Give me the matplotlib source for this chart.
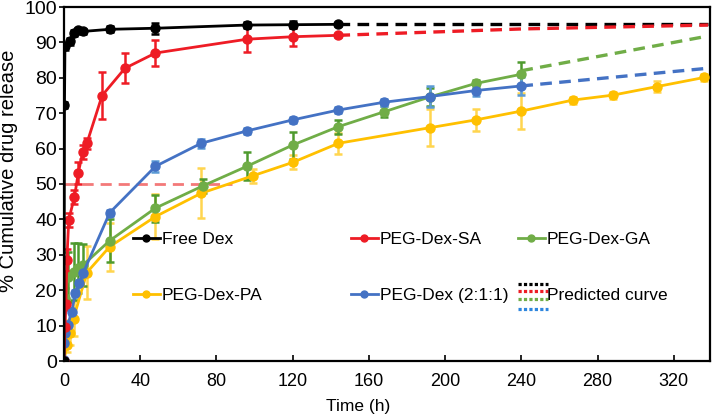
import matplotlib
matplotlib.use("Agg")
import matplotlib.pyplot as plt
from matplotlib.lines import Line2D
from matplotlib.legend_handler import HandlerBase

plt.rcParams['font.family'] = ['Liberation Sans', 'DejaVu Sans']

# ---------------- data ----------------
free_t = [0, 0.25, 0.5, 3, 5, 7.5, 10, 24, 48, 96, 120, 144]
free_v = [0, 72.4, 88.9, 90.3, 92.6, 93.4, 93.1, 93.7, 94.0, 94.9, 95.0, 95.1]
free_e = [0, 0.8, 1.0, 1.0, 0.8, 0.8, 0.8, 0.8, 1.5, 0.8, 1.0, 0.5]

sa_t = [0, 0.5, 1, 1.5, 2.5, 5.5, 7.5, 9.8, 12, 20, 32, 48, 96, 120, 144]
sa_v = [0, 9.5, 16, 28.5, 39.9, 46.4, 53.1, 59.0, 61.5, 75.0, 82.7, 87.0, 90.9, 91.6, 92.0]
sa_e = [0, 1.0, 1.5, 3.0, 2.0, 2.0, 3.0, 2.0, 1.5, 6.6, 4.2, 3.7, 3.6, 2.6, 0.5]

ga_t = [0, 0.5, 2, 5, 7.5, 10, 24, 48, 73, 96, 120, 144, 168, 192, 216, 240]
ga_v = [0, 17.7, 23.8, 25.2, 26.2, 27.1, 34.0, 43.2, 49.5, 55.0, 61.0, 66.2, 70.4, 74.6, 78.4, 81.0]
ga_e = [0, 3.0, 7.0, 8.0, 7.0, 6.0, 6.0, 3.8, 2.0, 4.0, 3.8, 2.0, 1.5, 2.5, 1.0, 3.5]

pa_t = [0, 1.5, 3, 5, 12, 24, 48, 72, 99, 120, 144, 192, 216, 240, 267, 288, 311, 336]
pa_v = [0, 4.5, 8.0, 12.0, 25.0, 32.3, 40.8, 47.4, 52.3, 56.1, 61.5, 65.9, 68.1, 70.6, 73.7, 75.1, 77.5, 80.1]
pa_e = [0, 2.0, 3.5, 5.0, 7.5, 6.8, 6.3, 7.0, 2.0, 2.0, 3.0, 5.2, 3.0, 5.0, 1.0, 1.0, 1.5, 1.0]

mix_t = [0, 0.25, 0.5, 2, 4, 6, 8, 10, 24, 48, 72, 96, 120, 144, 168, 192, 216, 240]
mix_v = [0.3, 5.0, 7.9, 10.2, 13.9, 19.1, 21.9, 24.8, 41.9, 55.0, 61.5, 65.0, 68.1, 70.9, 73.1, 74.7, 76.4, 77.7]
mix_e = [0, 0.8, 1.0, 1.0, 1.0, 1.0, 1.0, 1.0, 0.8, 1.5, 1.2, 0.8, 0.8, 0.8, 1.0, 3.0, 1.5, 2.5]

# predicted curves
pred_free_t = [144, 338]
pred_free_v = [95.1, 95.1]
pred_sa_t = [144, 240, 338]
pred_sa_v = [92.0, 93.8, 94.9]
pred_ga_t = [240, 290, 338]
pred_ga_v = [82.0, 87.0, 91.8]
pred_mix_t = [240, 338]
pred_mix_v = [77.7, 82.7]

half_t = [0, 88]
half_v = [50, 50]

xticks = [0, 40, 80, 120, 160, 200, 240, 280, 320]
yticks = [0, 10, 20, 30, 40, 50, 60, 70, 80, 90, 100]

labels = ['Free Dex', 'PEG-Dex-SA', 'PEG-Dex-GA', 'PEG-Dex-PA', 'PEG-Dex (2:1:1)', 'Predicted curve']

# ---------------- style ----------------
C_BLACK = '#000000'
C_RED = '#EE1C25'
C_GREEN = '#70AD47'
C_YELLOW = '#FFC000'
C_BLUE = '#4472C4'
E_GREEN = '#4E9A2E'
E_YELLOW = '#FFD54F'
E_BLUE = '#5B9BD5'

fig = plt.figure(figsize=(7.14, 4.16), dpi=100)
ax = fig.add_axes([64/714, 1-361/416, (710-64)/714, (361-7)/416])

ax.plot(half_t, half_v, color='#F26B6B', lw=2.0, ls=(0, (4, 2.5)), alpha=0.9, zorder=1)

def series(t, v, e, c, ec):
    ax.errorbar(t, v, yerr=e, color=c, ecolor=ec, lw=2.0, elinewidth=1.8,
                capsize=2.8, capthick=1.8, marker='o', ms=6.5, mec=c, mfc=c, zorder=3)

lw_pred = 2.4
dash = (0, (3.5, 2.2))
ax.plot(pred_free_t, pred_free_v, color=C_BLACK, lw=lw_pred, ls=dash, zorder=2)
ax.plot(pred_sa_t, pred_sa_v, color=C_RED, lw=lw_pred, ls=dash, zorder=2)
ax.plot(pred_ga_t, pred_ga_v, color=C_GREEN, lw=lw_pred, ls=dash, zorder=2)
ax.plot(pred_mix_t, pred_mix_v, color=C_BLUE, lw=lw_pred, ls=dash, zorder=2)

series(pa_t, pa_v, pa_e, C_YELLOW, E_YELLOW)
series(ga_t, ga_v, ga_e, C_GREEN, E_GREEN)
series(mix_t, mix_v, mix_e, C_BLUE, E_BLUE)
series(sa_t, sa_v, sa_e, C_RED, C_RED)
series(free_t, free_v, free_e, C_BLACK, C_BLACK)

ax.set_xlim(0, 339)
ax.set_ylim(0, 100)
ax.set_xticks(xticks)
ax.set_yticks(yticks)
for s in ax.spines.values():
    s.set_linewidth(1.6)
    s.set_color('black')
ax.tick_params(axis='x', direction='in', length=4, width=1.2, labelsize=13, pad=9)
ax.tick_params(axis='y', direction='out', length=3.5, width=1.2, labelsize=14, pad=1.5)

ax.set_xlabel('Time (h)', fontsize=12.5)
ax.xaxis.set_label_coords(0.455, -0.106)
ax.set_ylabel('% Cumulative drug release', fontsize=14.5)
ax.yaxis.set_label_coords(-0.071, 0.537)

# ---------------- legend ----------------
class PredHandler(HandlerBase):
    def create_artists(self, legend, orig_handle, xdescent, ydescent, width, height, fontsize, trans):
        arts = []
        cols = [C_BLACK, C_RED, C_GREEN, '#2E86DE']
        offs = [7.2, 1.8, -3.6, -10.5]
        for c, o in zip(cols, offs):
            y = -ydescent + height / 2 + o
            ln = Line2D([-xdescent, -xdescent + width * 1.1], [y, y], color=c, lw=2.3,
                        ls=(0, (1, 0.7)), transform=trans)
            arts.append(ln)
        return arts

class PredProxy:
    pass

def h(c):
    return Line2D([], [], color=c, lw=2.0, marker='o', ms=5, mfc=c, mec=c)

leg_kw = dict(frameon=False, fontsize=12.5, handlelength=1.55, handletextpad=0.1,
              labelspacing=2.35, borderpad=0, borderaxespad=0, loc='center left', numpoints=1)
y_leg = (361 - 267.5) / 354
l1 = ax.legend([h(C_BLACK), h(C_YELLOW)], [labels[0], labels[3]],
               bbox_to_anchor=((133 - 64) / 646, y_leg), **leg_kw)
ax.add_artist(l1)
l2 = ax.legend([h(C_RED), h(C_BLUE)], [labels[1], labels[4]],
               bbox_to_anchor=((351 - 64) / 646, y_leg), **leg_kw)
ax.add_artist(l2)
pp = PredProxy()
l3 = ax.legend([h(C_GREEN), pp], [labels[2], labels[5]],
               bbox_to_anchor=((518 - 64) / 646, y_leg),
               handler_map={PredProxy: PredHandler()}, **leg_kw)

fig.savefig('out.png', dpi=100)
